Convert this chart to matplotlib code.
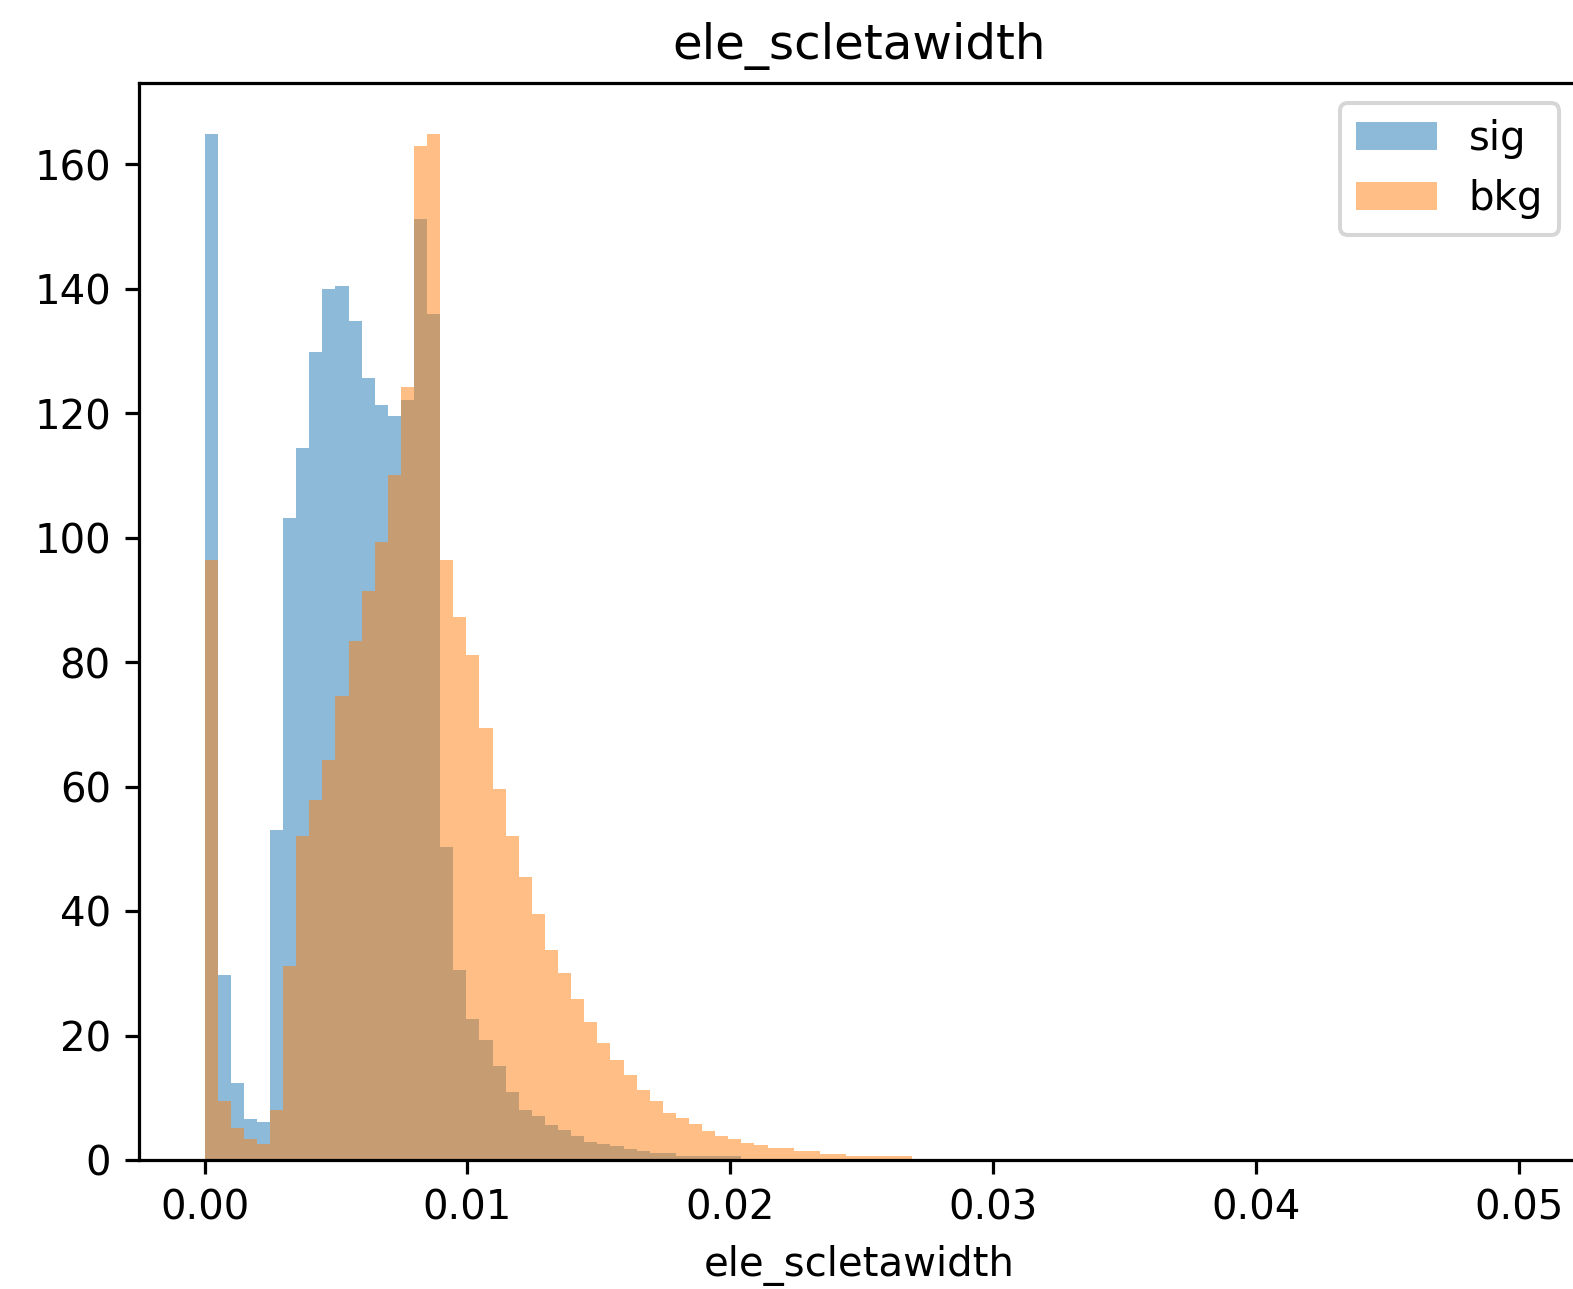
import numpy as np
import matplotlib
matplotlib.use("Agg")
import matplotlib.pyplot as plt

# ---- data (density histogram, 100 common bins) ----
title = "ele_scletawidth"
xlabel = "ele_scletawidth"
bin_lo = 0.0
bin_hi = 0.0498
n_bins = 100

sig_density = [
    164.9, 29.7, 12.3, 6.6, 6.1, 53.1, 103.2, 114.4, 129.8, 140.0,
    140.5, 134.9, 125.6, 121.3, 119.5, 122.2, 151.3, 135.9, 50.3, 30.6,
    22.6, 19.2, 15.1, 10.9, 8.0, 7.1, 5.6, 4.8, 3.8, 2.9,
    2.5, 2.3, 1.8, 1.5, 1.1, 1.1, 0.6, 0.6, 0.6, 0.6,
    0.6, 0.2, 0.2, 0.2, 0.1, 0.1, 0.0, 0.0, 0.0, 0.0,
] + [0.0] * 50

bkg_density = [
    96.5, 9.5, 5.2, 3.4, 2.6, 8.1, 31.1, 52.1, 57.8, 64.2,
    74.5, 83.4, 91.4, 99.3, 110.1, 124.2, 163.0, 164.9, 96.5, 87.2,
    81.2, 69.4, 59.6, 52.1, 45.5, 39.5, 33.8, 30.1, 25.9, 22.1,
    18.8, 16.0, 13.6, 11.3, 9.5, 7.6, 6.7, 5.8, 4.7, 3.8,
    3.3, 2.8, 2.4, 2.0, 2.0, 1.5, 1.5, 1.0, 1.0, 0.6,
    0.6, 0.6, 0.6, 0.6,
] + [0.0] * 46

labels = ["sig", "bkg"]

# ---- figure ----
DPI = 290
W, H = 1573.4, 1289.4
fig = plt.figure(figsize=(W / DPI, H / DPI), dpi=DPI)
ax = fig.add_axes([139 / 1573, (1289 - 1160) / 1289, 1440 / 1573, (1160 - 83) / 1289])

edges = np.linspace(bin_lo, bin_hi, n_bins + 1)
centers = 0.5 * (edges[:-1] + edges[1:])

ax.hist(centers, bins=edges, weights=sig_density, alpha=0.5, label=labels[0])
ax.hist(centers, bins=edges, weights=bkg_density, alpha=0.5, label=labels[1])

ax.set_title(title)
ax.set_xlabel(xlabel)
ax.legend(loc="upper right")

fig.savefig("out.png", dpi=DPI)
